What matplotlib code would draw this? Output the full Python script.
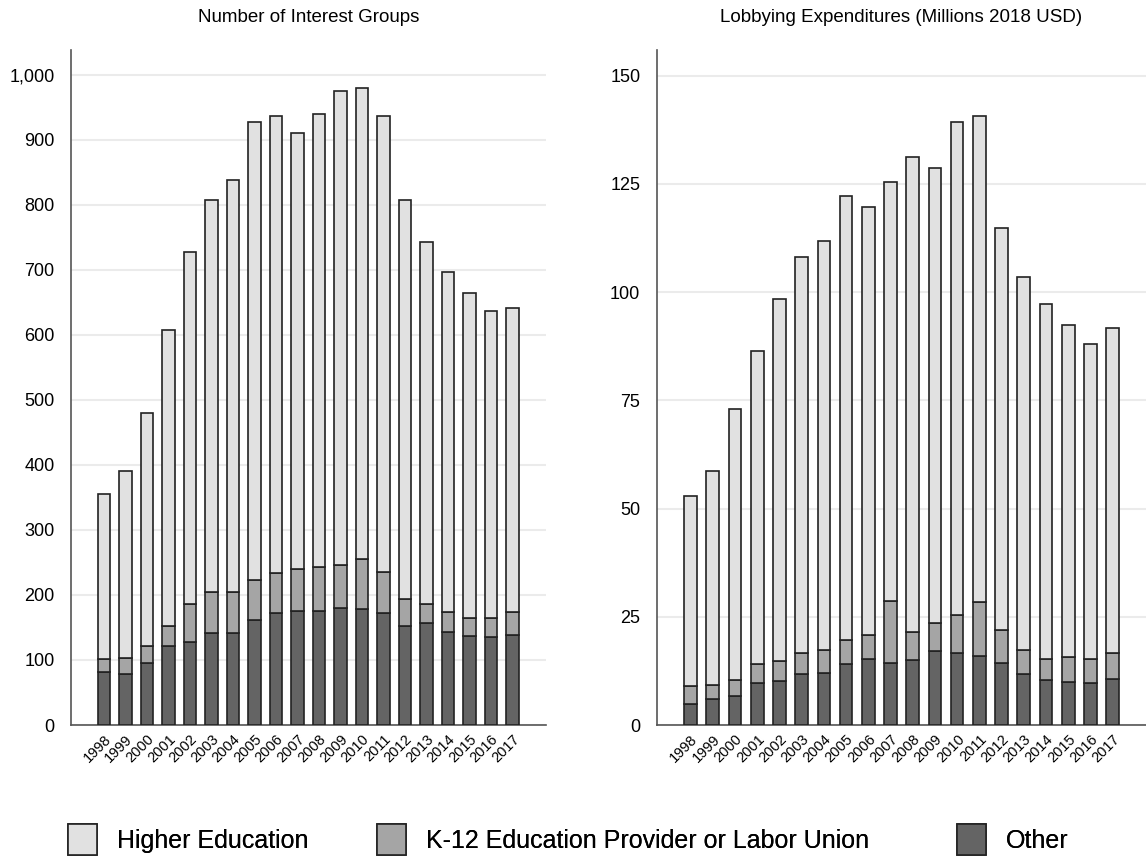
import matplotlib
matplotlib.use("Agg")
import matplotlib.pyplot as plt
from matplotlib.patches import Patch
from matplotlib.ticker import FuncFormatter

plt.rcParams['font.family'] = ['Liberation Sans', 'DejaVu Sans']

years = [str(y) for y in range(1998, 2018)]

# Number of interest groups
groups_other = [81, 78, 95, 121, 128, 142, 142, 162, 172, 175, 175, 180, 178, 172, 152, 157, 143, 137, 135, 138]
groups_k12 = [21, 25, 26, 31, 58, 62, 63, 61, 62, 65, 68, 66, 78, 64, 42, 29, 31, 28, 30, 36]
groups_higher = [253, 287, 359, 455, 542, 604, 633, 705, 703, 670, 696, 729, 724, 701, 614, 557, 523, 499, 471, 467]

# Lobbying expenditures, millions 2018 USD
spend_other = [4.8, 5.9, 6.7, 9.7, 10.2, 11.8, 12.1, 14.0, 15.3, 14.4, 15.1, 17.1, 16.6, 16.0, 14.3, 11.7, 10.3, 9.9, 9.6, 10.6]
spend_k12 = [4.1, 3.3, 3.6, 4.5, 4.6, 4.9, 5.3, 5.6, 5.4, 14.2, 6.4, 6.5, 8.9, 12.4, 7.6, 5.7, 4.9, 5.7, 5.6, 6.0]
spend_higher = [44.1, 49.5, 62.7, 72.1, 83.6, 91.4, 94.4, 102.7, 98.9, 96.9, 109.6, 105.1, 113.7, 112.2, 92.9, 86.0, 82.1, 76.7, 72.8, 75.1]

labels = ["Higher Education", "K-12 Education Provider or Labor Union", "Other"]
colors = ["#e1e1e1", "#a5a5a5", "#646464"]
edge = "#222222"

fig = plt.figure(figsize=(11.46, 8.57), dpi=100)
ax1 = fig.add_axes([0.062, 0.154, 0.4145, 0.7876])
ax2 = fig.add_axes([0.5733, 0.154, 0.4267, 0.7876])


def draw(ax, other, k12, higher, title, ymax, step, xlim):
    x = list(range(len(years)))
    b1 = [o + k for o, k in zip(other, k12)]
    ax.bar(x, other, width=0.57, color=colors[2], edgecolor=edge, linewidth=1.2, zorder=3)
    ax.bar(x, k12, bottom=other, width=0.57, color=colors[1], edgecolor=edge, linewidth=1.2, zorder=3)
    ax.bar(x, higher, bottom=b1, width=0.57, color=colors[0], edgecolor=edge, linewidth=1.2, zorder=3)
    ax.set_xlim(*xlim)
    ax.set_ylim(0, ymax)
    ax.set_yticks([step * i for i in range(int(ymax // step) + 1)])
    ax.yaxis.set_major_formatter(FuncFormatter(lambda v, p: f"{int(v):,}"))
    ax.set_xticks(x)
    ax.set_xticklabels(years, rotation=45, ha="right", rotation_mode="anchor", fontsize=10.5)
    ax.tick_params(axis="y", length=0, pad=12, labelsize=13)
    ax.tick_params(axis="x", length=0, pad=5)
    ax.grid(axis="y", color="#ebebeb", linewidth=1.5, zorder=0)
    for s in ["top", "right"]:
        ax.spines[s].set_visible(False)
    for s in ["left", "bottom"]:
        ax.spines[s].set_color("#555555")
        ax.spines[s].set_linewidth(1.2)
    ax.set_title(title, fontsize=13.5, pad=20)


draw(ax1, groups_other, groups_k12, groups_higher, "Number of Interest Groups", 1038, 100, (-1.53, 20.56))
draw(ax2, spend_other, spend_k12, spend_higher, "Lobbying Expenditures (Millions 2018 USD)", 155.9, 25, (-1.51, 20.5))

# one legend per entry, placed where the reference puts them
for lab, c, xpos in zip(labels, colors, [0.0593, 0.329, 0.835]):
    leg = fig.legend([Patch(facecolor=c, edgecolor=edge, linewidth=1.2)], [lab],
                     loc="lower left", bbox_to_anchor=(xpos, 0.002), frameon=False,
                     fontsize=18, handlelength=1.16, handleheight=1.55,
                     handletextpad=0.8, borderpad=0.0, borderaxespad=0.0)
    fig.add_artist(leg)

fig.savefig("out.png", dpi=100)
